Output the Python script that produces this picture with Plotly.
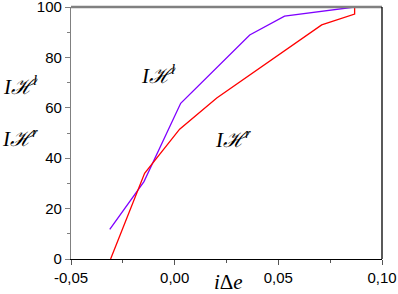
import plotly.graph_objects as go

# Data
lh_x = [-0.0313, -0.0148, 0.0029, 0.0362, 0.0530, 0.0868]
lh_y = [11.8, 30.7, 61.8, 88.9, 96.4, 100.0]

rh_x = [-0.0309, -0.0145, 0.0024, 0.0203, 0.0709, 0.0868, 0.0868]
rh_y = [0.0, 34.0, 51.5, 63.9, 92.9, 97.2, 100.0]

x_tickvals = [-0.05, 0.0, 0.05, 0.10]
x_ticktext = ["-0,05", "0,00", "0,05", "0,10"]
y_tickvals = [0, 20, 40, 60, 80, 100]
y_ticktext = ["0", "20", "40", "60", "80", "100"]

fig = go.Figure()
fig.add_trace(go.Scatter(x=lh_x, y=lh_y, mode="lines",
                         line=dict(color="#7F00FF", width=1.3), showlegend=False))
fig.add_trace(go.Scatter(x=rh_x, y=rh_y, mode="lines",
                         line=dict(color="#FF0000", width=1.3), showlegend=False))

serif = "Liberation Serif, Times New Roman, DejaVu Serif, serif"
lab_font = dict(family=serif, size=21, color="black")

def lab(sup):
    return "<i>I\u210B<sup>%s</sup></i>" % sup

annots = [
    dict(x=-0.225, y=0.69, xref="paper", yref="paper", xanchor="left", text=lab("l")),
    dict(x=-0.228, y=0.484, xref="paper", yref="paper", xanchor="left", text=lab("r")),
    dict(x=-0.0077, y=73.4, xref="x", yref="y", text=lab("l")),
    dict(x=0.028, y=48.0, xref="x", yref="y", text=lab("r")),
]
for a in annots:
    fig.add_annotation(showarrow=False, font=lab_font, yanchor="middle", **a)

fig.add_annotation(x=0.505, y=-0.093, xref="paper", yref="paper", yanchor="middle",
                   text="<i>i</i>\u0394<i>e</i>", showarrow=False,
                   font=dict(family=serif, size=21, color="black"))

# top (grey) and right (black) frame lines
fig.add_shape(type="line", xref="paper", yref="paper", x0=0, x1=1, y0=1, y1=1,
              line=dict(color="#808080", width=2.5))
fig.add_shape(type="line", xref="paper", yref="paper", x0=1, x1=1, y0=0, y1=1,
              line=dict(color="black", width=1.3))

tick_font = dict(family="Liberation Sans, Arial, sans-serif", size=15, color="black")

fig.update_xaxes(range=[-0.05, 0.10], showgrid=False, zeroline=False, automargin=False,
                 showline=True, linecolor="black", linewidth=1.3,
                 tickvals=x_tickvals, ticktext=x_ticktext, ticklabeloverflow="allow",
                 ticks="outside", ticklen=5, tickcolor="#555", tickwidth=1,
                 minor=dict(ticks="outside", ticklen=3, dtick=0.025, tickcolor="#555"),
                 tickfont=tick_font)
fig.update_yaxes(range=[0, 100], showgrid=False, zeroline=False, automargin=False,
                 showline=True, linecolor="#808080", linewidth=1.3,
                 tickvals=y_tickvals, ticktext=y_ticktext, ticklabeloverflow="allow",
                 ticks="outside", ticklen=5, tickcolor="#808080", tickwidth=1,
                 minor=dict(ticks="outside", ticklen=3, dtick=10, tickcolor="#808080"),
                 tickfont=tick_font)

fig.update_layout(width=398, height=294,
                  margin=dict(l=71, r=16, t=7, b=35, autoexpand=False),
                  paper_bgcolor="white", plot_bgcolor="white")

fig.write_html("out.html", config={"displayModeBar": False},
               post_script="document.body.style.margin='0';document.body.style.overflow='hidden';")
